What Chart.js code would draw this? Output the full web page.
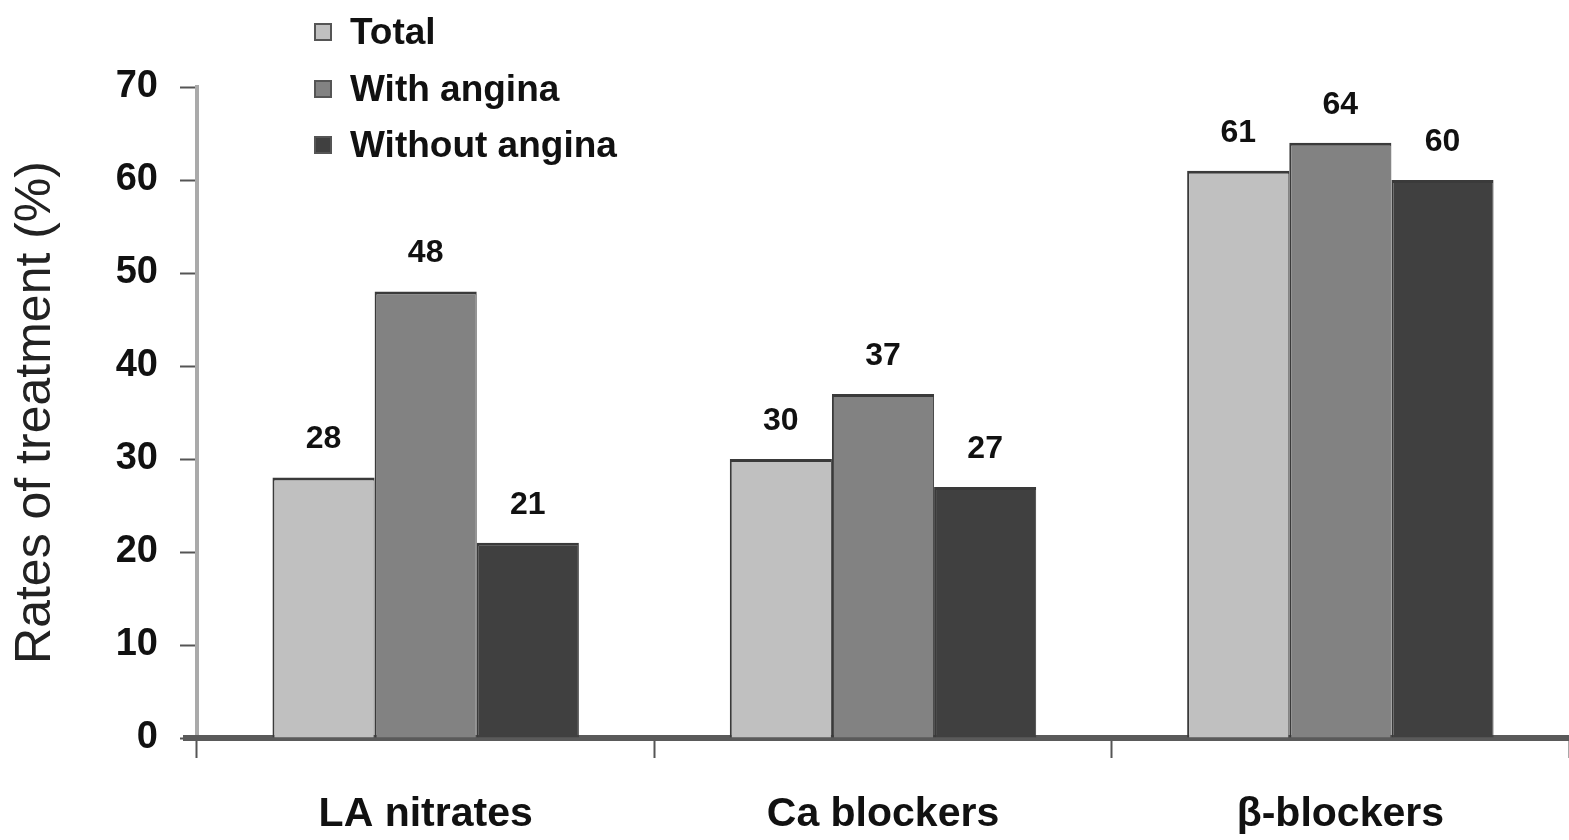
<!DOCTYPE html>
<html>
<head>
<meta charset="utf-8">
<script src="https://cdn.jsdelivr.net/npm/chart.js@4/dist/chart.umd.min.js"></script>
<style>
    body { margin: 0; background: #fff; }
    #wrap { position: relative; width: 1569px; height: 840px; }
    #legend { position: absolute; left: 314px; top: 4px; font-family: "Liberation Sans", Arial, sans-serif; font-weight: bold; font-size: 37px; color: #111; }
    #legend div { height: 56.5px; display: flex; align-items: center; }
    #legend span.box { display: inline-block; width: 14px; height: 14px; border: 2px solid #555; margin-right: 18px; }
</style>
</head>
<body>
<div id="wrap">
    <canvas id="chart" width="1569" height="840"></canvas>
    <div id="legend"></div>
</div>
<script>
const categories = ["LA nitrates", "Ca blockers", "β-blockers"];
const seriesNames = ["Total", "With angina", "Without angina"];
const totalValues = [28, 30, 61];
const withAnginaValues = [48, 37, 64];
const withoutAnginaValues = [21, 27, 60];
const yTicks = [0, 10, 20, 30, 40, 50, 60, 70];
const colors = ["#c0c0c0", "#828282", "#404040"];

const fontFamily = "'Liberation Sans', Arial, sans-serif";

// ---------- legend ----------
const legend = document.getElementById("legend");
seriesNames.forEach((name, i) => {
    const row = document.createElement("div");
    row.innerHTML = `<span class="box" style="background:${colors[i]}"></span>${name}`;
    legend.appendChild(row);
});

// ---------- value labels above bars ----------
const valueLabels = {
    id: "valueLabels",
    afterDatasetsDraw(chart) {
        const ctx = chart.ctx;
        ctx.save();
        ctx.font = "bold 32px " + fontFamily;
        ctx.fillStyle = "#111";
        ctx.textAlign = "center";
        ctx.textBaseline = "middle";
        chart.data.datasets.forEach((ds, i) => {
            chart.getDatasetMeta(i).data.forEach((bar, j) => {
                ctx.fillText(String(ds.data[j]), bar.x, bar.y - 38);
            });
        });
        // x axis line runs a little past the y axis on the left
        const area = chart.chartArea;
        ctx.fillStyle = "#5a5a5a";
        ctx.fillRect(area.left - 14, area.bottom - 3, 14, 6);
        ctx.restore();
    }
};

const allValues = [totalValues, withAnginaValues, withoutAnginaValues];

new Chart(document.getElementById("chart"), {
    type: "bar",
    data: {
        labels: categories,
        datasets: seriesNames.map((name, i) => ({
            label: name,
            data: allValues[i],
            backgroundColor: colors[i],
            borderColor: "#3a3a3a",
            borderWidth: { top: 3, left: 2, right: 1, bottom: 0 },
            categoryPercentage: 0.67,
            barPercentage: 1.0
        }))
    },
    plugins: [valueLabels],
    options: {
        responsive: false,
        animation: false,
        layout: {
            padding: { top: 87, right: 0, left: 0, bottom: 0 }
        },
        plugins: {
            legend: { display: false },
            tooltip: { enabled: false }
        },
        scales: {
            y: {
                min: 0,
                max: 70,
                afterBuildTicks: axis => {
                    axis.ticks = yTicks.map(v => ({ value: v }));
                },
                afterFit: scale => { scale.width = 197; },
                title: {
                    display: true,
                    text: "Rates of treatment (%)",
                    color: "#222",
                    font: { family: fontFamily, size: 50 },
                    padding: { top: 6, bottom: 0 }
                },
                ticks: {
                    color: "#111",
                    font: { family: fontFamily, size: 38, weight: "bold" },
                    padding: 22
                },
                grid: {
                    drawOnChartArea: false,
                    color: "#555",
                    tickLength: 17,
                    tickWidth: 2
                },
                border: {
                    color: "#aaaaaa",
                    width: 4
                }
            },
            x: {
                afterFit: scale => { scale.height = 102; },
                ticks: {
                    color: "#111",
                    font: { family: fontFamily, size: 41, weight: "bold" },
                    padding: 32
                },
                grid: {
                    drawOnChartArea: false,
                    color: "#555",
                    tickLength: 20,
                    tickWidth: 2
                },
                border: {
                    color: "#5a5a5a",
                    width: 6
                }
            }
        }
    }
});
</script>
</body>
</html>
